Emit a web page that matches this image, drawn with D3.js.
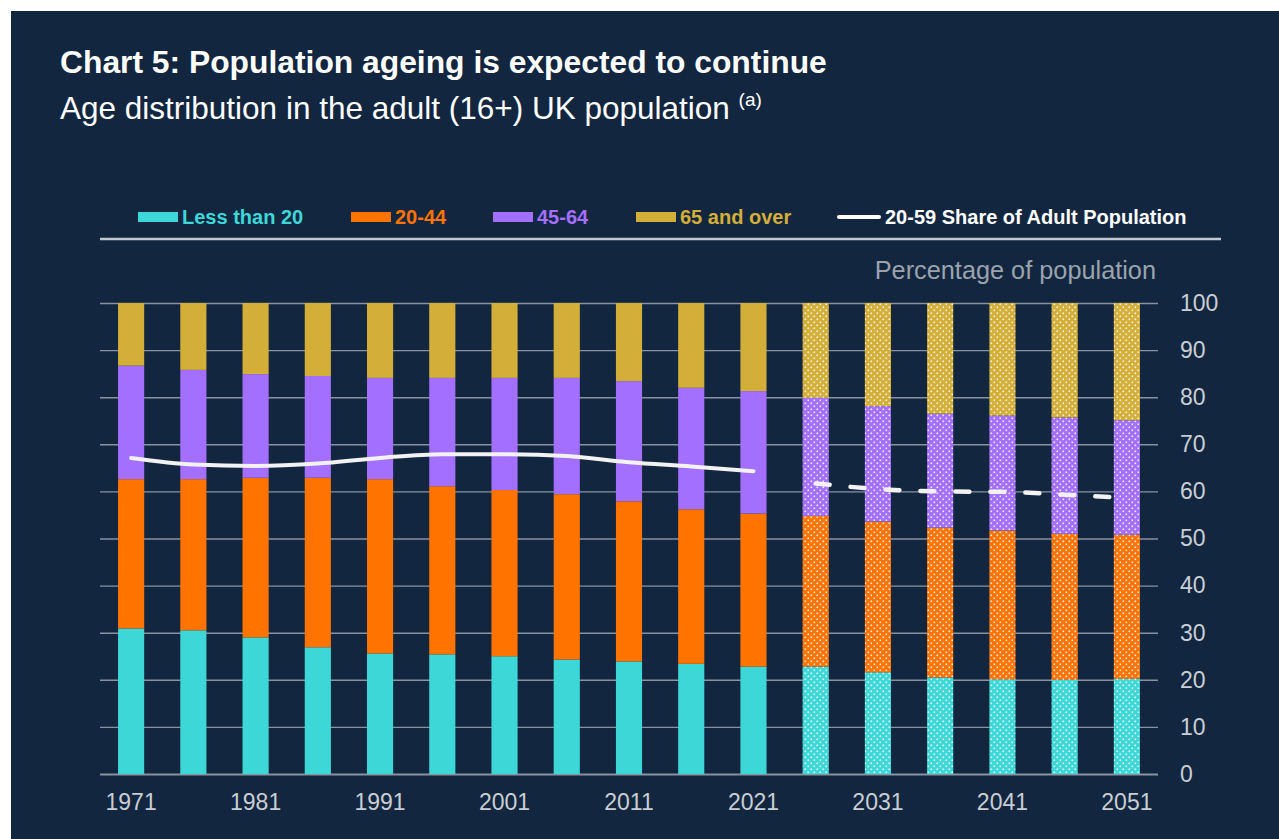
<!DOCTYPE html>
<html>
<head>
<meta charset="utf-8">
<script src="https://cdn.jsdelivr.net/npm/d3@7"></script>
<style>
  body { margin: 0; background: #ffffff; }
  svg { display: block; font-family: "Liberation Sans", Arial, sans-serif; }
</style>
</head>
<body>
<div id="chart"></div>
<script>
// Years (every 5 years, projections from 2026)
var years = [1971, 1976, 1981, 1986, 1991, 1996, 2001, 2006, 2011, 2016, 2021,
             2026, 2031, 2036, 2041, 2046, 2051];
var firstProjection = 2026;
var yearLabels = [1971, 1981, 1991, 2001, 2011, 2021, 2031, 2041, 2051];

// Shares of the adult population by age band (%)
var lessThan20 = [30.9, 30.5, 29.0, 26.9, 25.6, 25.4, 25.0, 24.3, 23.9, 23.4, 22.8,
                  22.8, 21.6, 20.5, 20.1, 20.0, 20.2];
var age20to44  = [31.7, 32.1, 33.9, 36.0, 37.0, 35.7, 35.3, 35.1, 34.0, 32.8, 32.5,
                  32.0, 32.0, 31.8, 31.6, 31.0, 30.6];
var age45to64  = [24.1, 23.2, 22.0, 21.6, 21.5, 23.0, 23.8, 24.7, 25.5, 25.8, 26.0,
                  25.1, 24.5, 24.2, 24.4, 24.7, 24.3];
var age65plus  = [13.3, 14.2, 15.1, 15.5, 15.9, 15.9, 15.9, 15.9, 16.6, 18.0, 18.7,
                  20.1, 21.9, 23.5, 23.9, 24.3, 24.9];

// 20-59 share of adult population (%)
var share20to59 = [67.1, 65.7, 65.4, 65.9, 67.1, 67.9, 67.9, 67.5, 66.2, 65.3, 64.3,
                   61.7, 60.5, 60.0, 59.9, 59.3, 58.6];

var yTicks = [0, 10, 20, 30, 40, 50, 60, 70, 80, 90, 100];

var seriesKeys = ["lt20", "a20", "a45", "a65"];
var seriesNames = ["Less than 20", "20-44", "45-64", "65 and over"];
var seriesColors = ["#3dd7d8", "#ff7300", "#a36fff", "#d3ae38"];

// Build rows for the stack
var rows = years.map(function(yr, i) {
  return { year: yr, lt20: lessThan20[i], a20: age20to44[i], a45: age45to64[i], a65: age65plus[i] };
});

var svgWidth = 1279, svgHeight = 839;
var plot = { left: 100, right: 1158, top: 303, bottom: 774 };
var bg = "#13263f";

var svg = d3.select("#chart").append("svg")
  .attr("width", svgWidth)
  .attr("height", svgHeight);

svg.append("rect")
  .attr("x", 11).attr("y", 11)
  .attr("width", svgWidth - 11).attr("height", svgHeight - 11)
  .attr("fill", bg);

// dotted patterns for projected bars
var defs = svg.append("defs");
seriesColors.forEach(function(c, i) {
  var p = defs.append("pattern")
    .attr("id", "dots" + i)
    .attr("patternUnits", "userSpaceOnUse")
    .attr("width", 6).attr("height", 6);
  p.append("rect").attr("width", 6).attr("height", 6).attr("fill", c);
  p.append("rect").attr("x", 0.5).attr("y", 0.5).attr("width", 1.6).attr("height", 1.6)
    .attr("fill", "#ffffff").attr("opacity", 0.85);
  p.append("rect").attr("x", 3.5).attr("y", 3.5).attr("width", 1.6).attr("height", 1.6)
    .attr("fill", "#ffffff").attr("opacity", 0.85);
});

// Title
svg.append("text")
  .attr("x", 60).attr("y", 73)
  .attr("fill", "#ffffff")
  .attr("font-size", 31.8).attr("font-weight", "bold")
  .text("Chart 5: Population ageing is expected to continue");

var sub = svg.append("text")
  .attr("x", 60).attr("y", 119)
  .attr("fill", "#ffffff")
  .attr("font-size", 31.5);
sub.append("tspan").text("Age distribution in the adult (16+) UK population ");
sub.append("tspan").attr("font-size", 19).attr("dy", -13).text("(a)");

// Scales
var x = d3.scaleBand()
  .domain(years)
  .range([plot.left, plot.right])
  .paddingInner(0.58)
  .paddingOuter(0.29);

var y = d3.scaleLinear()
  .domain([0, 100])
  .range([plot.bottom, plot.top]);

// Gridlines + right axis labels
var yAxis = svg.append("g")
  .attr("transform", "translate(" + plot.right + ",0)")
  .call(d3.axisRight(y).tickValues(yTicks).tickSize(-(plot.right - plot.left)).tickPadding(22));
yAxis.select(".domain").remove();
yAxis.selectAll(".tick line")
  .attr("stroke", "#8892a0")
  .attr("stroke-width", function(d) { return d === 0 ? 2.2 : 1.4; });
yAxis.selectAll(".tick text")
  .attr("fill", "#c9ced5")
  .attr("font-size", 23)
  .attr("font-family", "Liberation Sans, Arial, sans-serif");

// Axis title
svg.append("text")
  .attr("x", 1156).attr("y", 279)
  .attr("text-anchor", "end")
  .attr("fill", "#9aa3ae")
  .attr("font-size", 25.3)
  .text("Percentage of population");

// Stacked bars
var stacked = d3.stack().keys(seriesKeys)(rows);

var layers = svg.append("g").selectAll("g")
  .data(stacked)
  .enter().append("g");

layers.selectAll("rect")
  .data(function(d, i) { return d.map(function(s) { return { s: s, i: i }; }); })
  .enter().append("rect")
  .attr("x", function(d) { return x(d.s.data.year); })
  .attr("width", x.bandwidth())
  .attr("y", function(d) { return y(d.s[1]); })
  .attr("height", function(d) { return y(d.s[0]) - y(d.s[1]); })
  .attr("fill", function(d) {
    return d.s.data.year >= firstProjection ? "url(#dots" + d.i + ")" : seriesColors[d.i];
  });

// 20-59 share line
var linePts = years.map(function(yr, i) { return { year: yr, v: share20to59[i] }; });
var line = d3.line()
  .x(function(d) { return x(d.year) + x.bandwidth() / 2; })
  .y(function(d) { return y(d.v); })
  .curve(d3.curveMonotoneX);

svg.append("path")
  .datum(linePts.filter(function(d) { return d.year < firstProjection; }))
  .attr("d", line)
  .attr("fill", "none")
  .attr("stroke", "#f2f2f2")
  .attr("stroke-width", 4)
  .attr("stroke-linecap", "round");

svg.append("path")
  .datum(linePts.filter(function(d) { return d.year >= firstProjection; }))
  .attr("d", line)
  .attr("fill", "none")
  .attr("stroke", "#f2f2f2")
  .attr("stroke-width", 4.5)
  .attr("stroke-linecap", "round")
  .attr("stroke-dasharray", "14,21");

// X axis labels
var xAxis = svg.append("g")
  .attr("transform", "translate(0," + plot.bottom + ")")
  .call(d3.axisBottom(x).tickValues(yearLabels).tickSize(0).tickPadding(20));
xAxis.select(".domain").remove();
xAxis.selectAll(".tick text")
  .attr("fill", "#c9ced5")
  .attr("font-size", 23)
  .attr("font-family", "Liberation Sans, Arial, sans-serif");

// Legend
var legendY = 217;
var legendItems = [
  { name: seriesNames[0], color: seriesColors[0], x: 138 },
  { name: seriesNames[1], color: seriesColors[1], x: 351 },
  { name: seriesNames[2], color: seriesColors[2], x: 493 },
  { name: seriesNames[3], color: seriesColors[3], x: 636 }
];
var legend = svg.append("g");
legendItems.forEach(function(it) {
  legend.append("rect")
    .attr("x", it.x).attr("y", legendY - 5)
    .attr("width", 40).attr("height", 10)
    .attr("fill", it.color);
  legend.append("text")
    .attr("x", it.x + 44).attr("y", legendY + 7)
    .attr("fill", it.color)
    .attr("font-size", 20).attr("font-weight", "bold")
    .text(it.name);
});
legend.append("line")
  .attr("x1", 839).attr("x2", 879)
  .attr("y1", legendY).attr("y2", legendY)
  .attr("stroke", "#ffffff").attr("stroke-width", 4)
  .attr("stroke-linecap", "round");
legend.append("text")
  .attr("x", 885).attr("y", legendY + 7)
  .attr("fill", "#ffffff")
  .attr("font-size", 20).attr("font-weight", "bold")
  .text("20-59 Share of Adult Population");

svg.append("line")
  .attr("x1", 100).attr("x2", 1221)
  .attr("y1", 239).attr("y2", 239)
  .attr("stroke", "#c3c8cf").attr("stroke-width", 2.5);
</script>
</body>
</html>
